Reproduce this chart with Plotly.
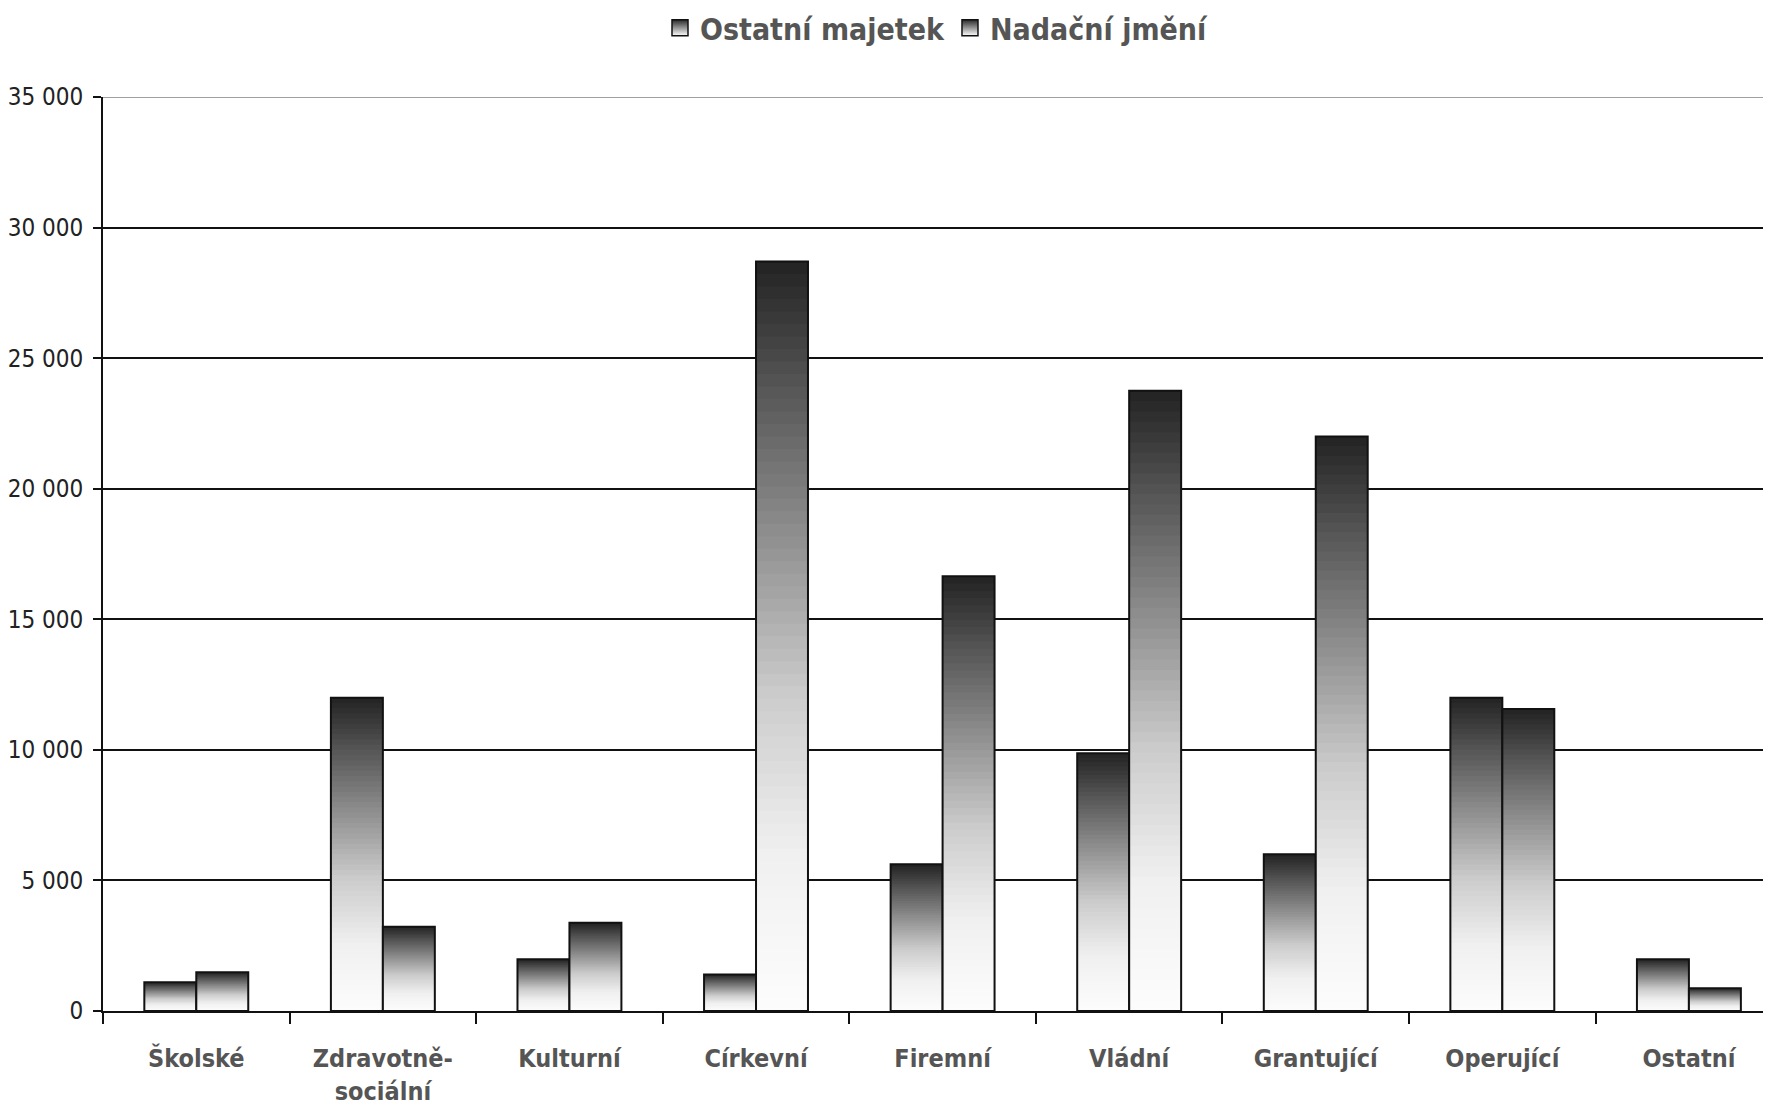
import plotly.graph_objects as go

# Kategorie nadací a hodnoty
kategorie = ["Školské", "Zdravotně-<br>sociální", "Kulturní", "Církevní", "Firemní",
             "Vládní", "Grantující", "Operující", "Ostatní"]
ostatni_majetek = [1100, 12000, 1980, 1400, 5620, 9870, 6000, 12000, 1980]
nadacni_jmeni = [1480, 3230, 3380, 28700, 16650, 23750, 22000, 11560, 870]

serie = [("Ostatní majetek", ostatni_majetek, "om"),
         ("Nadační jmění", nadacni_jmeni, "nj")]

# přechod: podíl výšky od spodku sloupce -> odstín šedi
grad_f = [0.0, 0.21, 0.42, 0.63, 0.834, 1.0]
grad_v = [252, 240, 204, 144, 85, 34]


def sed(f):
    for i in range(len(grad_f) - 1):
        if grad_f[i] <= f <= grad_f[i + 1]:
            t = (f - grad_f[i]) / (grad_f[i + 1] - grad_f[i])
            v = int(round(grad_v[i] + t * (grad_v[i + 1] - grad_v[i])))
            return f"rgb({v},{v},{v})"
    return "rgb(34,34,34)"


N = 60
fig = go.Figure()

for nazev, hodnoty, grp in serie:
    # vrstvy přechodu (od nejvyšší, nejtmavší)
    for k in range(N):
        podil = 1 - k / N
        fig.add_trace(go.Bar(
            x=kategorie, y=[v * podil for v in hodnoty],
            offsetgroup=grp, showlegend=False, hoverinfo="skip",
            marker=dict(color=sed(1 - (k + 0.5) / N), line=dict(width=0)),
        ))
    # obrys
    fig.add_trace(go.Bar(
        x=kategorie, y=hodnoty, offsetgroup=grp, showlegend=False, name=nazev,
        marker=dict(color="rgba(0,0,0,0)", line=dict(color="#111111", width=2)),
        hovertemplate=nazev + "<br>%{x}: %{y:,d}<extra></extra>",
    ))

# položky legendy (čtverec s přechodem)
for nazev, hodnoty, grp in serie:
    fig.add_trace(go.Scatter(
        x=[kategorie[0]], y=[None], mode="markers", name=nazev, hoverinfo="skip",
        marker=dict(symbol="square", size=16, color="#2a2a2a",
                    gradient=dict(type="vertical", color="#ffffff"),
                    line=dict(color="#111111", width=1.5)),
    ))

fig.add_shape(type="line", xref="paper", yref="y", x0=0, x1=1, y0=35000, y1=35000,
              line=dict(color="#a0a0a0", width=2))

fig.update_layout(
    width=1763, height=1103,
    barmode="group", bargap=0.443, bargroupgap=0,
    plot_bgcolor="white", paper_bgcolor="white",
    separators=", ",
    margin=dict(l=90, r=0, t=89, b=100),
    font=dict(family="DejaVu Sans Condensed, DejaVu Sans, sans-serif", color="#555555"),
    legend=dict(
        orientation="h", x=0.5, xanchor="center", y=0.982, yref="container",
        yanchor="middle", itemwidth=30,
        font=dict(family="DejaVu Sans Condensed, DejaVu Sans, sans-serif",
                  size=30, color="#555555", weight="bold"),
        traceorder="normal",
    ),
)

fig.update_xaxes(
    type="category", range=[-0.5, 8.44],
    showline=True, linecolor="#111111", linewidth=2,
    ticks="outside", tickson="boundaries", ticklen=11, tickwidth=2, tickcolor="#111111",
    tickfont=dict(family="DejaVu Sans Condensed, DejaVu Sans, sans-serif",
                  size=25, color="#555555", weight="bold"),
    ticklabelstandoff=24,
    showgrid=False,
)
fig.update_yaxes(
    range=[0, 35000], dtick=5000, tickformat=",d",
    showline=True, linecolor="#111111", linewidth=2,
    ticks="outside", ticklen=8, tickwidth=2, tickcolor="#111111",
    showgrid=True, gridcolor="#111111", gridwidth=2, zeroline=False,
    tickfont=dict(family="Liberation Sans Narrow, DejaVu Sans Condensed, sans-serif",
                  size=24, color="#222222"),
    ticklabelstandoff=5,
)

fig.write_html("out.html")
